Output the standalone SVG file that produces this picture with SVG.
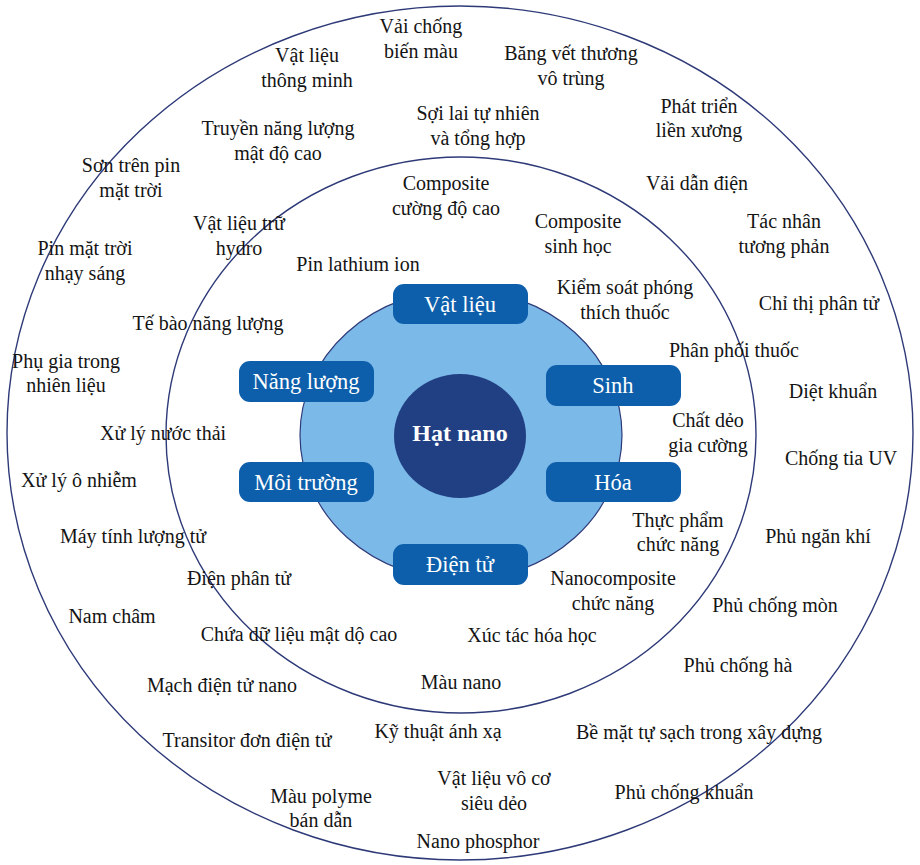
<svg xmlns="http://www.w3.org/2000/svg" width="920" height="865" viewBox="0 0 920 865">
<style>
.ring{fill:none;stroke:#2e3a78;stroke-width:1.4}
.t{font-family:"Liberation Serif","Times New Roman",serif;font-size:20px;fill:#141414;text-anchor:middle}
.box{fill:#0d5fab}
.bt{font-family:"Liberation Serif","Times New Roman",serif;font-size:22.5px;fill:#ffffff;text-anchor:middle}
.ct{font-family:"Liberation Serif","Times New Roman",serif;font-size:24px;font-weight:bold;fill:#ffffff;text-anchor:middle}
</style>
<rect width="920" height="865" fill="#ffffff"/>
<g id="rings">
<ellipse class="ring" cx="460" cy="433" rx="453" ry="427"/>
<ellipse class="ring" cx="461" cy="435" rx="295" ry="278"/>
</g>
<g id="core">
<ellipse cx="461" cy="435" rx="161" ry="145" fill="#7bb9e8" stroke="#2e3a78" stroke-width="1.2"/>
<ellipse cx="460" cy="436" rx="66" ry="62" fill="#213f83"/>
<text class="ct" x="460" y="441">Hạt nano</text>
</g>
<g id="connectors"></g>
<g id="n-vatlieu"><rect class="box" x="393" y="284" width="135" height="40" rx="11"/><text class="bt" x="460" y="312">Vật liệu</text></g>
<g id="n-nangluong"><rect class="box" x="239" y="361" width="135" height="41" rx="11"/><text class="bt" x="306" y="389">Năng lượng</text></g>
<g id="n-sinh"><rect class="box" x="546" y="365" width="135" height="41" rx="11"/><text class="bt" x="613" y="393">Sinh</text></g>
<g id="n-moitruong"><rect class="box" x="239" y="462" width="135" height="40" rx="11"/><text class="bt" x="306" y="490">Môi trường</text></g>
<g id="n-hoa"><rect class="box" x="546" y="462" width="135" height="40" rx="11"/><text class="bt" x="613" y="490">Hóa</text></g>
<g id="n-dientu"><rect class="box" x="393" y="544" width="135" height="41" rx="11"/><text class="bt" x="460" y="572">Điện tử</text></g>
<g id="inner-labels">
<text class="t" x="446" y="190">Composite</text><text class="t" x="446" y="215">cường độ cao</text>
<text class="t" x="578" y="228">Composite</text><text class="t" x="578" y="253">sinh học</text>
<text class="t" x="239" y="230">Vật liệu trữ</text><text class="t" x="239" y="255">hydro</text>
<text class="t" x="358" y="271">Pin lathium ion</text>
<text class="t" x="625" y="294">Kiểm soát phóng</text><text class="t" x="625" y="319">thích thuốc</text>
<text class="t" x="208" y="330">Tế bào năng lượng</text>
<text class="t" x="734" y="357">Phân phối thuốc</text>
<text class="t" x="163" y="440">Xử lý nước thải</text>
<text class="t" x="708" y="427">Chất dẻo</text><text class="t" x="708" y="452">gia cường</text>
<text class="t" x="678" y="527">Thực phẩm</text><text class="t" x="678" y="551">chức năng</text>
<text class="t" x="239" y="585">Điện phân tử</text>
<text class="t" x="613" y="585">Nanocomposite</text><text class="t" x="613" y="610">chức năng</text>
<text class="t" x="299" y="641">Chứa dữ liệu mật dộ cao</text>
<text class="t" x="532" y="642">Xúc tác hóa học</text>
<text class="t" x="461" y="689">Màu nano</text>
</g>
<g id="outer-labels">
<text class="t" x="421" y="33">Vải chống</text><text class="t" x="421" y="58">biến màu</text>
<text class="t" x="307" y="62">Vật liệu</text><text class="t" x="307" y="87">thông minh</text>
<text class="t" x="571" y="60">Băng vết thương</text><text class="t" x="571" y="85">vô trùng</text>
<text class="t" x="478" y="120">Sợi lai tự nhiên</text><text class="t" x="478" y="145">và tổng hợp</text>
<text class="t" x="278" y="135">Truyền năng lượng</text><text class="t" x="278" y="160">mật độ cao</text>
<text class="t" x="699" y="113">Phát triển</text><text class="t" x="699" y="137">liền xương</text>
<text class="t" x="131" y="172">Sơn trên pin</text><text class="t" x="131" y="197">mặt trời</text>
<text class="t" x="697" y="190">Vải dẫn điện</text>
<text class="t" x="784" y="228">Tác nhân</text><text class="t" x="784" y="253">tương phản</text>
<text class="t" x="85" y="255">Pin mặt trời</text><text class="t" x="85" y="280">nhạy sáng</text>
<text class="t" x="819" y="310">Chỉ thị phân tử</text>
<text class="t" x="66" y="368">Phụ gia trong</text><text class="t" x="66" y="392">nhiên liệu</text>
<text class="t" x="833" y="398">Diệt khuẩn</text>
<text class="t" x="79" y="487">Xử lý ô nhiễm</text>
<text class="t" x="841" y="465">Chống tia UV</text>
<text class="t" x="133" y="543">Máy tính lượng tử</text>
<text class="t" x="818" y="543">Phủ ngăn khí</text>
<text class="t" x="112" y="623">Nam châm</text>
<text class="t" x="775" y="612">Phủ chống mòn</text>
<text class="t" x="222" y="692">Mạch điện tử nano</text>
<text class="t" x="738" y="672">Phủ chống hà</text>
<text class="t" x="247" y="747">Transitor đơn điện tử</text>
<text class="t" x="699" y="739">Bề mặt tự sạch trong xây dựng</text>
<text class="t" x="438" y="738">Kỹ thuật ánh xạ</text>
<text class="t" x="321" y="803">Màu polyme</text><text class="t" x="321" y="827">bán dẫn</text>
<text class="t" x="494" y="785">Vật liệu vô cơ</text><text class="t" x="494" y="810">siêu dẻo</text>
<text class="t" x="684" y="799">Phủ chống khuẩn</text>
<text class="t" x="478" y="848">Nano phosphor</text>
</g>
</svg>
